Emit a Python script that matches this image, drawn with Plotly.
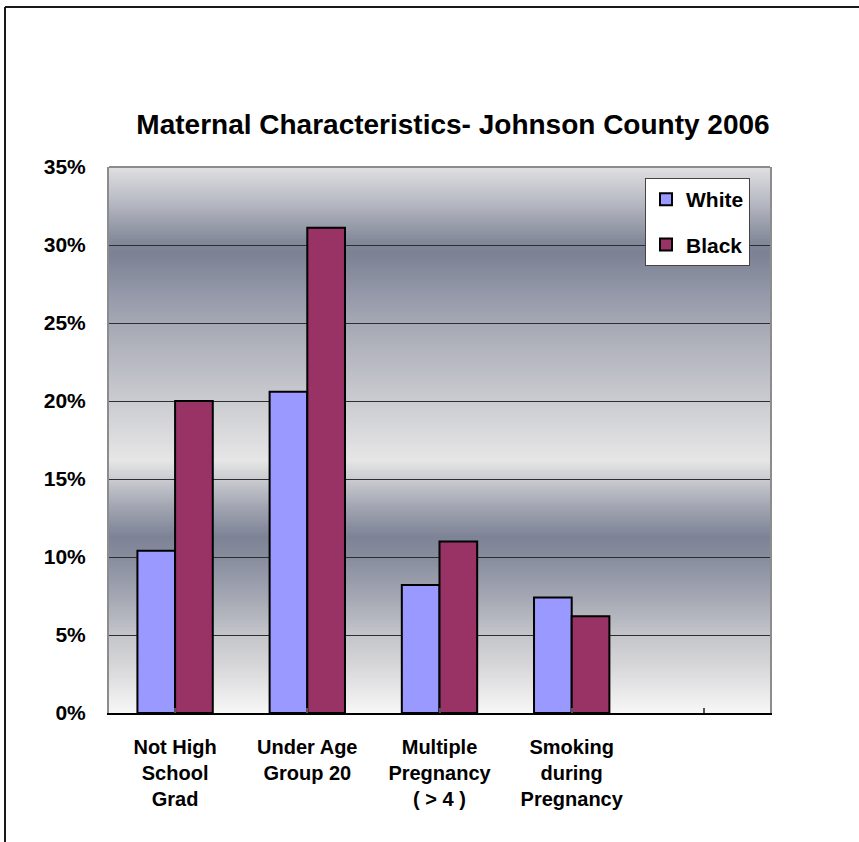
import plotly.graph_objects as go

# ---- data -------------------------------------------------------------
categories = [
    "Not High<br>School<br>Grad",
    "Under Age<br>Group 20",
    "Multiple<br>Pregnancy<br>( > 4 )",
    "Smoking<br>during<br>Pregnancy",
    "",
]
white_pct = [10.4, 20.6, 8.2, 7.4]
black_pct = [20.0, 31.1, 11.0, 6.2]
y_tick_values = [0, 5, 10, 15, 20, 25, 30, 35]

# ---- layout geometry ----------------------------------------------------
W, H = 859, 842
M_L, M_R, M_T, M_B = 109, 89, 167, 129
PLOT_W = W - M_L - M_R
PLOT_H = H - M_T - M_B
FONT = "Liberation Sans, Arial, sans-serif"


def px_x(x):
    return (x - M_L) / PLOT_W


def px_y(y):
    return (H - M_B - y) / PLOT_H


# metallic background: colour stops along the value axis
grad_stops = [
    (0.0, "#f7f7f7"),
    (3.1, "#d6d6d8"),
    (5.0, "#c4c5ca"),
    (7.2, "#a7aab5"),
    (10.0, "#878c9d"),
    (11.3, "#7d8396"),
    (13.3, "#a4a7b3"),
    (15.0, "#cbccd1"),
    (16.2, "#e6e6e6"),
    (17.2, "#dfdfe1"),
    (20.1, "#cacbd0"),
    (23.3, "#b2b4be"),
    (26.5, "#989cab"),
    (29.5, "#7b8194"),
    (30.3, "#858a9b"),
    (32.9, "#babcc5"),
    (35.0, "#e0e0e2"),
]


def hex_rgb(h):
    h = h.lstrip("#")
    return tuple(int(h[i:i + 2], 16) for i in (0, 2, 4))


def color_at(v):
    for (v0, c0), (v1, c1) in zip(grad_stops[:-1], grad_stops[1:]):
        if v0 <= v <= v1:
            t = (v - v0) / (v1 - v0) if v1 > v0 else 0
            a, b = hex_rgb(c0), hex_rgb(c1)
            r = [round(a[i] + (b[i] - a[i]) * t) for i in range(3)]
            return "rgb({},{},{})".format(*r)
    return grad_stops[-1][1]


shapes = []
step = 0.125
n_bands = int(round(35 / step))
for i in range(n_bands):
    y0 = i * step
    y1 = min(35, y0 + step * 1.6)
    shapes.append(dict(
        type="rect", xref="paper", yref="y", x0=0, x1=1, y0=y0, y1=y1,
        fillcolor=color_at(y0 + step / 2), line=dict(width=0), layer="below",
    ))

# top edge of the plot frame
shapes.append(dict(type="line", xref="paper", yref="paper", x0=0, x1=1, y0=1, y1=1,
                   line=dict(color="#8c8c8c", width=2), layer="above"))
# outer page border (top and left)
shapes.append(dict(type="line", xref="paper", yref="paper",
                   x0=px_x(5), x1=px_x(W), y0=px_y(7), y1=px_y(7),
                   line=dict(color="#1a1a1a", width=2)))
shapes.append(dict(type="line", xref="paper", yref="paper",
                   x0=px_x(5), x1=px_x(5), y0=px_y(7), y1=px_y(H),
                   line=dict(color="#1a1a1a", width=2)))

x_pos = list(range(len(white_pct)))

fig = go.Figure()
fig.add_trace(go.Bar(
    x=x_pos, y=white_pct, name="White", legendgroup="w",
    marker=dict(color="#9999ff", line=dict(color="#000000", width=2)),
))
fig.add_trace(go.Bar(
    x=x_pos, y=black_pct, name="Black", legendgroup="b",
    marker=dict(color="#993366", line=dict(color="#000000", width=2)),
))

fig.update_layout(
    width=W, height=H,
    margin=dict(l=M_L, r=M_R, t=M_T, b=M_B, pad=0),
    paper_bgcolor="white",
    plot_bgcolor="white",
    barmode="group",
    bargap=0.43,
    bargroupgap=0,
    font=dict(family=FONT, color="#000000", size=20, weight="bold"),
    title=dict(
        text="Maternal Characteristics- Johnson County 2006",
        x=px_x(453), xanchor="center",
        y=1 - 124 / H, yanchor="middle", xref="paper", yref="container",
        font=dict(family=FONT, size=28, color="#000000", weight="bold"),
    ),
    legend=dict(
        x=px_x(645), y=px_y(178), xanchor="left", yanchor="top",
        bgcolor="white", bordercolor="#444444", borderwidth=1,
        font=dict(family=FONT, size=21, color="#000000", weight="bold"),
        tracegroupgap=15,
        itemclick=False,
    ),
    shapes=shapes,
)

fig.update_xaxes(
    range=[-0.5, 4.5],
    tickmode="array",
    tickvals=list(range(len(categories))),
    ticktext=categories,
    ticks="inside", ticklen=5, tickwidth=1.5, tickcolor="#555555",
    ticklabelstandoff=15,
    tickfont=dict(family=FONT, size=20, color="#000000", weight="bold"),
    showgrid=False, zeroline=False,
    showline=True, linecolor="#000000", linewidth=2,
)
fig.update_yaxes(
    range=[0, 35],
    tickmode="array",
    tickvals=y_tick_values,
    ticktext=[f"{v}%" for v in y_tick_values],
    ticks="", ticklabelstandoff=17,
    tickfont=dict(family=FONT, size=21, color="#000000", weight="bold"),
    showgrid=True, gridcolor="#2e2e2e", gridwidth=1,
    zeroline=False,
    showline=True, linecolor="#8c8c8c", linewidth=2, mirror=True,
)

fig.write_html("out.html")
